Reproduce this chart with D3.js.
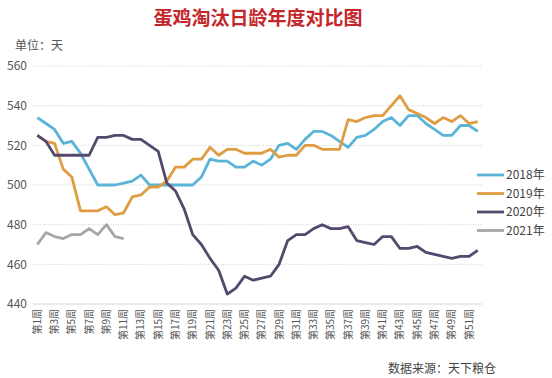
<!DOCTYPE html>
<meta charset="utf-8">
<style>
body { margin: 0; background: #fff; }
svg text { font-family: "Noto Sans CJK SC", "Noto Sans", sans-serif; }
.grid line { stroke: #cfcfcf; stroke-dasharray: 1,1.5; }
.axis--x path, .axis--x line { display: none; }
.axis--y path, .axis--y line { display: none; }
.line { fill: none; stroke-width: 2.8; stroke-linejoin: round; }
</style>
<head>
  <script src="https://d3js.org/d3.v7.min.js"></script>
</head>
<svg width="552" height="378"></svg>
<script>

var weeks = d3.range(1, 53);
var yTicks = [440, 460, 480, 500, 520, 540, 560];
var years = ["2018年", "2019年", "2020年", "2021年"];
var colors = ["#5ab4d8", "#df9c42", "#54496c", "#a6a6a6"];

var y2018 = [534, 531, 528, 521, 522, 516, 508, 500, 500, 500, 501, 502, 505, 500, 500, 500, 500, 500,
  500, 504, 513, 512, 512, 509, 509, 512, 510, 513, 520, 521, 518, 523, 527, 527, 525,
  522, 519, 524, 525, 528, 532, 534, 530, 535, 535, 531, 528, 525, 525, 530, 530, 527];
var y2019 = [525, 522, 521, 508, 504, 487, 487, 487, 489, 485, 486, 494, 495, 499, 499, 502, 509, 509,
  513, 513, 519, 515, 518, 518, 516, 516, 516, 518, 514, 515, 515, 520, 520, 518, 518,
  518, 533, 532, 534, 535, 535, 540, 545, 538, 536, 534, 531, 534, 532, 535, 531, 532];
var y2020 = [525, 522, 515, 515, 515, 515, 515, 524, 524, 525, 525, 523, 523, 520, 517, 501, 497, 488,
  475, 470, 463, 457, 445, 448, 454, 452, 453, 454, 460, 472, 475, 475, 478, 480, 478,
  478, 479, 472, 471, 470, 474, 474, 468, 468, 469, 466, 465, 464, 463, 464, 464, 467];
var y2021 = [470, 476, 474, 473, 475, 475, 478, 475, 480, 474, 473];

var series = [y2018, y2019, y2020, y2021];

var svg = d3.select("svg");
var plotL = 33, plotR = 482, plotT = 66, plotB = 304;

var x = d3.scaleBand().domain(weeks).range([plotL, plotR]);
var y = d3.scaleLinear().domain([440, 560]).range([plotB, plotT]);
var cx = function(w) { return x(w) + x.bandwidth() / 2; };

// title
svg.append("text")
    .attr("x", 258).attr("y", 25)
    .attr("text-anchor", "middle")
    .attr("font-size", 19)
    .attr("font-weight", "bold")
    .attr("fill", "#c3272b")
    .text("蛋鸡淘汰日龄年度对比图");

svg.append("text")
    .attr("x", 15).attr("y", 50)
    .attr("font-size", 12)
    .attr("fill", "#555")
    .text("单位：天");

// grid
svg.append("g")
    .attr("class", "grid")
  .selectAll("line")
  .data(yTicks.slice(1))
  .enter().append("line")
    .attr("x1", plotL).attr("x2", plotR)
    .attr("y1", function(d) { return y(d); })
    .attr("y2", function(d) { return y(d); });

svg.append("line")
    .attr("x1", plotL).attr("x2", plotR)
    .attr("y1", y(440)).attr("y2", y(440))
    .attr("stroke", "#d6d6d6");

var gy = svg.append("g")
    .attr("class", "axis axis--y")
    .attr("transform", "translate(" + plotL + ",0)")
    .call(d3.axisLeft(y).tickValues(yTicks).tickSize(0).tickPadding(6));
gy.selectAll("text").attr("font-size", 12).attr("fill", "#555");

var gx = svg.append("g")
    .attr("class", "axis axis--x")
    .attr("transform", "translate(0," + plotB + ")")
    .call(d3.axisBottom(x).tickValues(weeks.filter(function(w) { return w % 2 == 1; }))
      .tickFormat(function(w) { return "第" + w + "周"; }).tickSize(0));
gx.selectAll("text")
    .attr("font-size", 10)
    .attr("fill", "#555")
    .attr("text-anchor", "end")
    .attr("transform", "translate(0,5) rotate(-90)")
    .attr("x", 0).attr("y", 0)
    .attr("dy", "0.35em");

// lines
var line = d3.line()
    .x(function(d, i) { return cx(weeks[i]); })
    .y(function(d) { return y(d); });

series.forEach(function(s, i) {
  svg.append("path")
      .datum(s)
      .attr("class", "line")
      .attr("stroke", colors[i])
      .attr("d", line);
});

// legend
var lg = svg.append("g").selectAll("g")
    .data(years)
  .enter().append("g")
    .attr("transform", function(d, i) { return "translate(477," + (175 + i * 18.5) + ")"; });
lg.append("line")
    .attr("x1", 0).attr("x2", 27)
    .attr("stroke", function(d, i) { return colors[i]; })
    .attr("stroke-width", 2.8);
lg.append("text")
    .attr("x", 29).attr("dy", "0.35em")
    .attr("font-size", 12)
    .attr("fill", "#444")
    .text(function(d) { return d; });

svg.append("text")
    .attr("x", 388).attr("y", 373)
    .attr("font-size", 12)
    .attr("fill", "#444")
    .text("数据来源：天下粮仓");

</script>
